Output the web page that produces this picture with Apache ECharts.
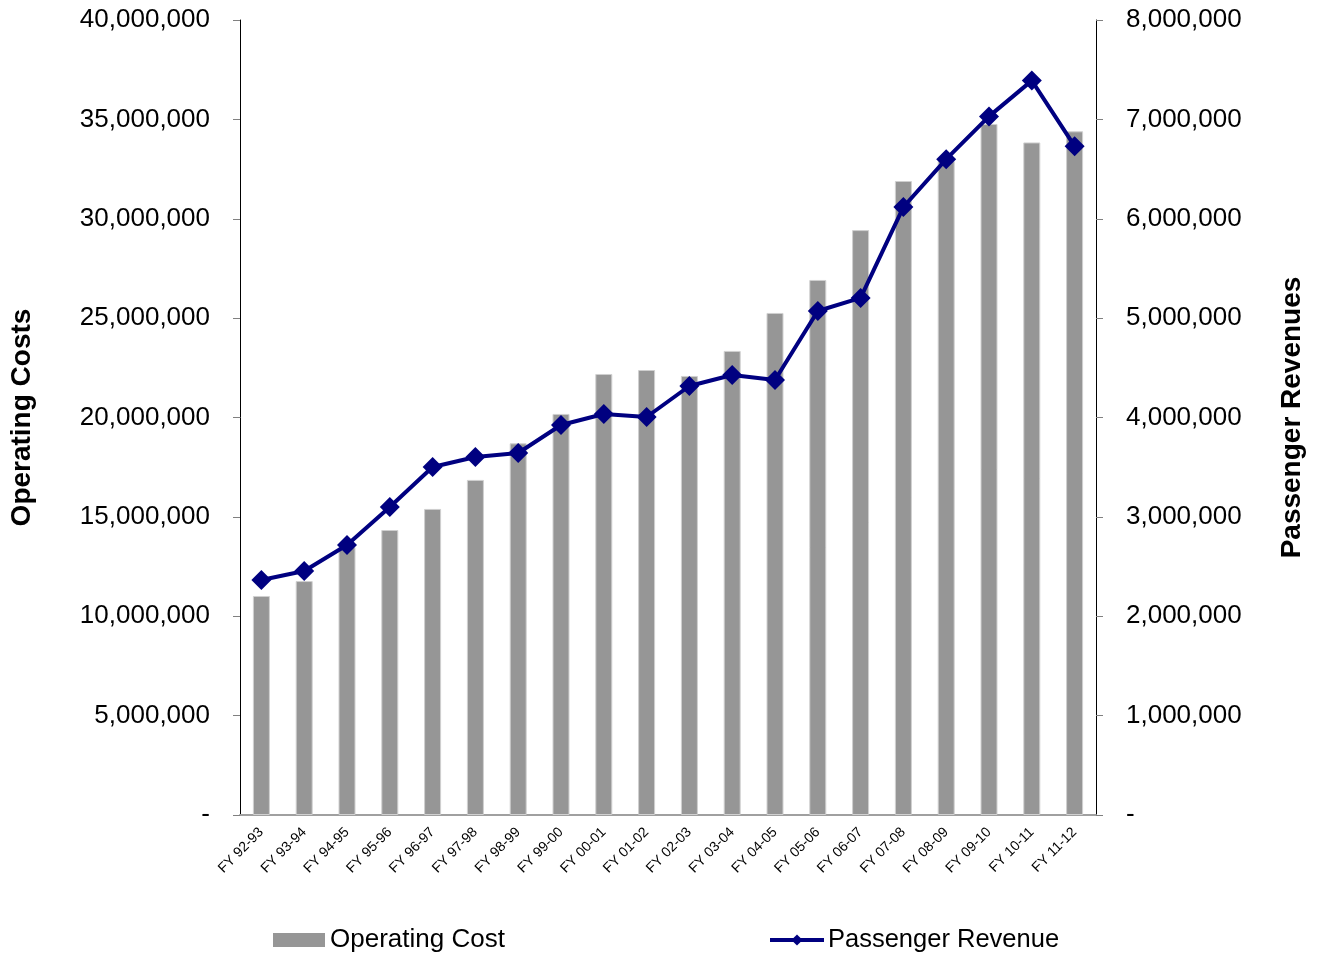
<!DOCTYPE html>
<html><head><meta charset="utf-8">
<script src="https://cdn.jsdelivr.net/npm/echarts@6/dist/echarts.min.js"></script>
<style>html,body{margin:0;padding:0;background:#fff}#c{width:1317px;height:956px}</style>
</head><body><div id="c"></div>
<script>
const categories = ['FY 92-93','FY 93-94','FY 94-95','FY 95-96','FY 96-97','FY 97-98','FY 98-99','FY 99-00','FY 00-01','FY 01-02','FY 02-03','FY 03-04','FY 04-05','FY 05-06','FY 06-07','FY 07-08','FY 08-09','FY 09-10','FY 10-11','FY 11-12'];
const operatingCost = [11020000,11770000,13480000,14340000,15400000,16860000,18700000,20180000,22190000,22390000,22090000,23350000,25260000,26920000,29430000,31900000,32900000,34770000,33840000,34400000];
const passengerRevenue = [2365000,2455000,2717000,3099000,3502000,3602000,3643000,3925000,4035000,4005000,4317000,4428000,4377000,5072000,5203000,6118000,6600000,7030000,7390000,6730000];
const fmt = v => v === 0 ? '-' : v.toLocaleString('en-US');
const FONT = 'Liberation Sans, Arial, sans-serif';
const chart = echarts.init(document.getElementById('c'));
chart.setOption({
  animation: false,
  textStyle: { fontFamily: FONT, color: '#000' },
  grid: { left: 240, right: 221, top: 20, bottom: 141 },
  legend: [
    { data: [{ name: 'Operating Cost', icon: 'rect' }], left: 273, top: 927, padding: 0, itemWidth: 52, itemHeight: 14, itemGap: 6,
      itemStyle: { borderWidth: 0 },
      textStyle: { fontSize: 26, fontFamily: FONT, color: '#000', padding: [0,0,0,0] } },
    { data: ['Passenger Revenue'], left: 768, top: 927, padding: 0, itemWidth: 54, itemHeight: 14,
      lineStyle: { width: 4 },
      textStyle: { fontSize: 25.5, fontFamily: FONT, color: '#000', padding: [0,0,0,-1] } }
  ],
  xAxis: {
    type: 'category', data: categories,
    axisLine: { lineStyle: { color: '#a0a0a0', width: 2 } },
    axisTick: { show: false },
    axisLabel: { rotate: 45, fontSize: 14, fontFamily: FONT, color: '#000', margin: 15, interval: 0 }
  },
  yAxis: [
    { type: 'value', min: 0, max: 40000000, interval: 5000000,
      name: 'Operating Costs', nameLocation: 'middle', nameRotate: 90, nameGap: 204,
      nameTextStyle: { fontSize: 28, fontWeight: 'bold', fontFamily: FONT, color: '#000' },
      axisLine: { show: true, lineStyle: { color: '#000', width: 1 } },
      axisTick: { show: true, length: 7, lineStyle: { color: '#808080' } },
      splitLine: { show: false },
      axisLabel: { formatter: fmt, fontSize: 26, fontFamily: FONT, color: '#000', margin: 30 } },
    { type: 'value', min: 0, max: 8000000, interval: 1000000, position: 'right',
      name: 'Passenger Revenues', nameLocation: 'middle', nameRotate: 90, nameGap: 182,
      nameTextStyle: { fontSize: 28, fontWeight: 'bold', fontFamily: FONT, color: '#000' },
      axisLine: { show: true, lineStyle: { color: '#000', width: 1 } },
      axisTick: { show: true, length: 7, lineStyle: { color: '#808080' } },
      splitLine: { show: false },
      axisLabel: { formatter: fmt, fontSize: 26, fontFamily: FONT, color: '#000', margin: 30 } }
  ],
  series: [
    { name: 'Operating Cost', type: 'bar', data: operatingCost, yAxisIndex: 0,
      barWidth: 17, itemStyle: { color: '#969696', borderColor: '#d0d0d0', borderWidth: 1 } },
    { name: 'Passenger Revenue', type: 'line', data: passengerRevenue, yAxisIndex: 1,
      symbol: 'diamond', symbolSize: 20,
      lineStyle: { color: '#000080', width: 4 }, itemStyle: { color: '#000080' } }
  ]
});
</script></body></html>
